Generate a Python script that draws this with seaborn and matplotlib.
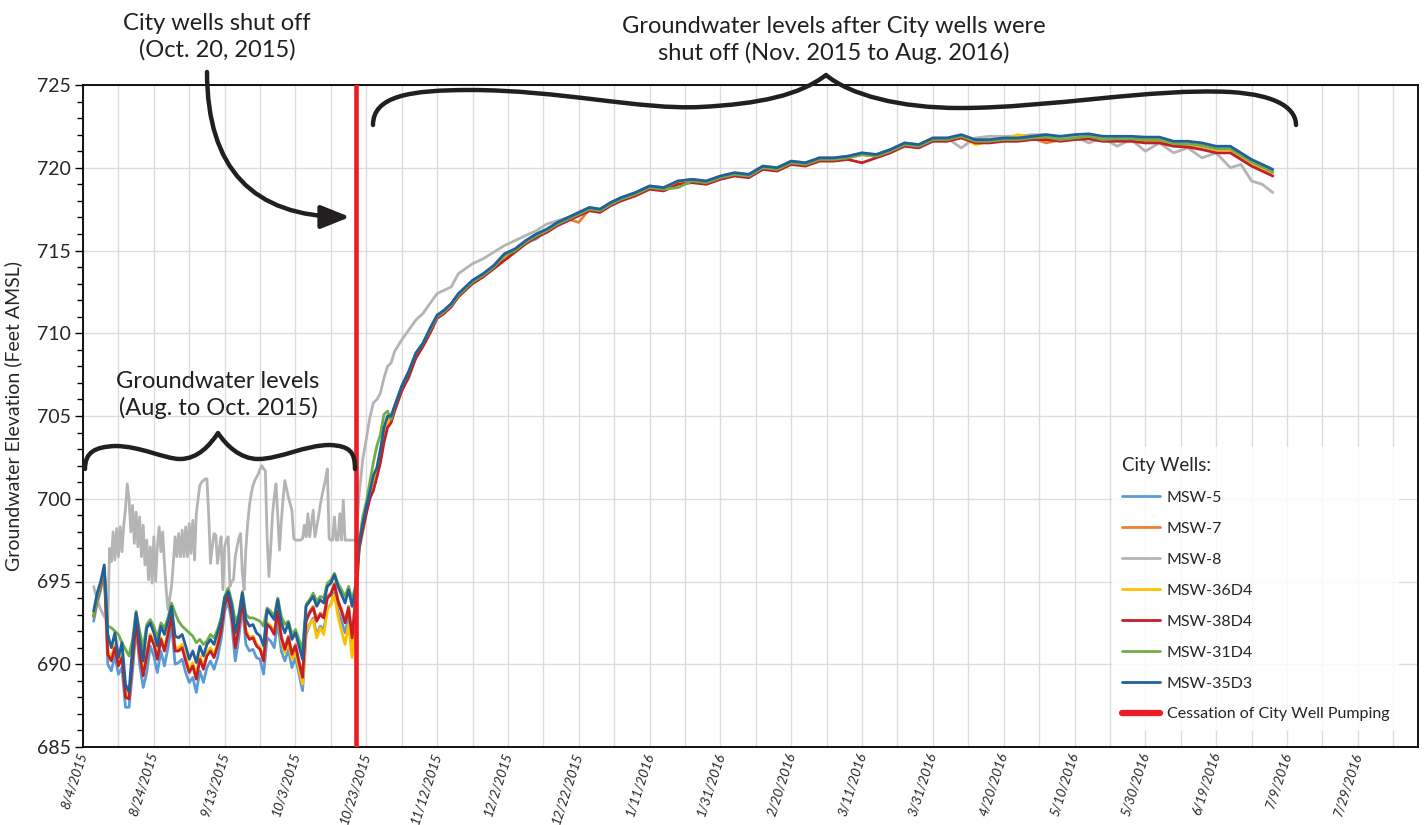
import pandas as pd
import matplotlib
matplotlib.use("Agg")
import matplotlib.pyplot as plt
from matplotlib.lines import Line2D
from matplotlib.path import Path
from matplotlib.patches import PathPatch
from matplotlib.ticker import MultipleLocator
import seaborn as sns

# =====================================
# DATA (feet AMSL)
# =====================================

wells = ["MSW-5", "MSW-7", "MSW-8", "MSW-36D4", "MSW-38D4", "MSW-31D4", "MSW-35D3"]
well_colors = ["#5B9BD5", "#ED7D31", "#B4B4B4", "#FFC000", "#C41E26", "#70AD47", "#22609A"]

axis_start = "2015-08-04"
axis_end = "2016-08-15"
shutoff_date = "2015-10-20"
first_reading = "2015-08-07"

# daily readings 8/7/2015 - 10/20/2015
msw35_pre = [
    693.2, 694.3, 695.0, 696.0, 691.8, 691.0, 691.9, 690.4, 691.3, 688.8,
    688.3, 691.1, 693.1, 691.5, 690.2, 692.2, 692.5, 691.9, 691.1, 692.3,
    691.8, 692.6, 693.5, 691.7, 691.6, 691.8, 691.1, 690.3, 690.8, 690.1,
    691.1, 690.5, 691.2, 691.5, 691.2, 691.9, 692.6, 694.0, 694.4, 693.6,
    691.9, 692.9, 694.3, 692.7, 692.3, 692.4, 691.9, 691.7, 691.1, 693.3,
    693.0, 692.7, 693.9, 692.5, 691.9, 692.5, 691.5, 691.9, 691.1, 690.3,
    693.5, 693.8, 694.1, 693.5, 693.9, 693.7, 694.7, 694.9, 695.4, 694.7,
    694.2, 693.7, 694.5, 693.5, 694.6,
]
msw5_pre = [
    692.6, 693.7, 694.5, 695.6, 690.0, 689.6, 690.5, 689.4, 689.8, 687.4,
    687.4, 689.6, 692.2, 690.0, 688.6, 689.5, 691.1, 690.5, 689.5, 690.8,
    689.9, 691.0, 692.4, 690.0, 690.1, 690.3, 689.5, 688.9, 689.2, 688.3,
    689.6, 688.9, 689.8, 690.2, 689.7, 690.4, 691.5, 693.2, 693.8, 692.5,
    690.2, 691.6, 693.5, 691.2, 690.8, 690.9, 690.4, 690.3, 689.4, 691.6,
    691.4, 691.0, 692.6, 690.8, 690.2, 690.9, 689.8, 690.4, 689.4, 688.4,
    691.8, 692.4, 692.8, 691.8, 692.3, 692.1, 693.4, 693.6, 694.3, 693.2,
    692.6, 691.9, 692.8, 690.8, 693.5,
]
msw38_pre = [
    692.9, 693.9, 694.7, 695.8, 690.6, 690.2, 691.0, 689.9, 690.4, 688.0,
    687.9, 690.3, 692.6, 690.6, 689.3, 690.5, 691.7, 691.2, 690.3, 691.5,
    690.8, 691.8, 692.9, 690.8, 690.8, 691.0, 690.2, 689.5, 689.9, 689.1,
    690.3, 689.7, 690.5, 690.8, 690.4, 691.1, 692.0, 693.6, 694.1, 693.0,
    691.0, 692.2, 693.9, 691.9, 691.5, 691.6, 691.1, 690.9, 690.2, 692.4,
    692.2, 691.8, 693.2, 691.6, 690.9, 691.6, 690.6, 691.1, 690.1, 689.2,
    692.6, 693.1, 693.4, 692.6, 693.0, 692.8, 694.0, 694.2, 694.8, 693.8,
    693.2, 692.5, 693.4, 691.6, 694.0,
]
msw36_pre = [
    692.9, 693.9, 694.7, 695.8, 690.8, 690.4, 691.2, 690.1, 690.6, 688.2,
    688.1, 690.5, 692.7, 690.8, 689.5, 690.7, 691.8, 691.3, 690.5, 691.6,
    691.0, 691.9, 693.0, 691.0, 691.0, 691.2, 690.4, 689.7, 690.1, 689.3,
    690.5, 689.9, 690.7, 691.0, 690.6, 691.3, 692.1, 693.7, 694.2, 693.1,
    691.2, 692.3, 694.0, 692.0, 691.6, 691.7, 691.2, 691.0, 690.3, 692.5,
    692.3, 691.9, 693.3, 691.4, 690.7, 691.3, 690.3, 690.8, 689.7, 688.8,
    692.0, 692.4, 692.7, 691.6, 692.2, 691.8, 693.3, 693.6, 694.2, 692.9,
    692.0, 691.2, 692.4, 690.4, 693.3,
]
msw7_pre = [
    692.9, 694.0, 694.8, 695.8, 690.8, 690.3, 691.1, 690.0, 690.5, 688.1,
    688.0, 690.4, 692.7, 690.7, 689.4, 690.6, 691.8, 691.3, 690.4, 691.6,
    690.9, 691.9, 693.0, 690.9, 690.9, 691.1, 690.3, 689.6, 690.0, 689.2,
    690.4, 689.8, 690.6, 690.9, 690.5, 691.2, 692.1, 693.7, 694.2, 693.1,
    691.1, 692.3, 694.0, 692.0, 691.6, 691.7, 691.2, 691.0, 690.3, 692.5,
    692.3, 691.9, 693.3, 691.7, 691.0, 691.7, 690.7, 691.2, 690.2, 689.3,
    692.7, 693.2, 693.5, 692.7, 693.1, 692.9, 694.1, 694.3, 694.9, 693.9,
    693.3, 692.6, 693.5, 691.7, 694.1,
]
msw31_pre = [
    692.9, 694.0, 694.8, 695.8, 692.3, 692.2, 692.0, 691.8, 691.3, 690.9,
    690.5, 691.5, 693.2, 692.0, 691.0, 692.4, 692.7, 692.3, 691.6, 692.5,
    692.2, 692.8, 693.7, 693.1, 692.6, 692.3, 692.1, 691.9, 691.7, 691.3,
    691.5, 691.2, 691.4, 691.8, 691.6, 692.1, 692.8, 694.1, 694.6, 693.8,
    692.6, 693.0, 694.4, 693.0, 692.8, 692.8, 692.7, 692.6, 692.3, 693.4,
    693.2, 692.9, 694.0, 692.9, 692.4, 692.6, 691.8, 692.1, 691.5, 690.9,
    693.6, 693.9, 694.3, 693.8, 694.1, 694.0, 694.9, 695.1, 695.5, 694.9,
    694.5, 694.1, 694.7, 693.9, 694.8,
]
# MSW-8 cycles faster: twice-daily readings 8/7/2015 - 10/20/2015
msw8_pre = [
    694.7, 694.3, 694.0, 693.6, 693.3, 693.1, 692.9, 692.7, 692.5, 697.0,
    696.2, 698.0, 696.3, 698.2, 696.5, 698.3, 696.8, 698.4, 699.4, 700.9,
    700.0, 698.0, 699.6, 697.3, 699.2, 697.1, 698.9, 696.5, 698.4, 696.0,
    697.5, 695.1, 697.1, 694.9, 697.7, 695.0, 697.1, 698.3, 696.8, 698.0,
    696.1, 694.5, 693.3, 694.0, 694.7, 696.1, 697.7, 696.5, 697.9, 696.5,
    698.1, 696.5, 698.3, 696.5, 698.5, 696.7, 698.7, 696.3, 699.1, 700.0,
    700.8, 701.0, 701.1, 701.2, 701.2, 699.0,
    696.1, 697.1, 697.9, 697.8, 696.1, 697.0, 697.7, 694.5, 697.1, 697.5,
    697.7, 694.7, 695.0, 695.1, 696.5, 697.1, 697.6, 697.9, 695.5, 694.5,
    697.0, 698.5, 699.6, 700.3, 700.8, 701.1, 701.3, 701.5, 701.8, 702.0,
    701.8, 701.7, 697.6, 695.3, 697.0, 699.0, 700.1, 700.9, 699.0, 696.9,
    698.6, 700.0, 701.1, 700.6, 700.1, 699.7, 699.3, 697.6, 697.5, 697.5,
    697.5, 697.5, 697.6, 698.4, 697.7, 699.1, 697.7, 698.5, 699.3, 697.7,
    698.3, 698.9, 699.6, 700.2, 700.7, 701.2, 701.8, 697.6, 697.5, 697.5,
    698.9, 697.5, 697.5, 699.1, 697.5, 699.9, 697.5, 697.5, 697.5, 697.5,
    697.5, 697.5, 697.5,
]

# readings after shut-off, days since 8/4/2015
post_days = [
    78, 79, 80, 81, 82, 83, 84, 85, 86, 87, 88,
    90, 92, 94, 96, 98, 100, 102, 104, 106, 108, 110,
    113, 116, 119, 122, 125, 128, 131, 134, 137, 140, 143, 146, 149, 152,
    156, 160, 164, 168, 172, 176, 180, 184, 188, 192,
    196, 200, 204, 208, 212, 216, 220, 224, 228, 232,
    236, 240, 244, 248, 252, 256, 260, 264, 268, 272,
    276, 280, 284, 288, 292, 296, 300, 304, 308, 312,
    316, 320, 324, 327, 330, 333, 336,
]
msw35_post = [
    697.3, 698.5, 699.5, 700.4, 701.4, 701.9, 703.0, 704.3, 705.0, 705.0, 705.6,
    706.8, 707.7, 708.8, 709.4, 710.3, 711.1, 711.4, 711.8, 712.4, 712.8, 713.2,
    713.6, 714.1, 714.8, 715.1, 715.6, 716.0, 716.3, 716.7, 717.0, 717.3, 717.6, 717.5, 717.9, 718.2,
    718.5, 718.9, 718.8, 719.2, 719.3, 719.2, 719.5, 719.7, 719.6, 720.1,
    720.0, 720.4, 720.3, 720.6, 720.6, 720.7, 720.9, 720.8, 721.1, 721.5,
    721.4, 721.8, 721.8, 722.0, 721.7, 721.7, 721.8, 721.8, 721.9, 722.0,
    721.9, 722.0, 722.05, 721.9, 721.9, 721.9, 721.85, 721.85, 721.6, 721.6,
    721.5, 721.3, 721.3, 720.9, 720.5, 720.2, 719.9,
]
msw38_post = [
    697.0, 698.1, 699.1, 700.0, 700.5, 701.3, 702.2, 703.4, 704.3, 704.6, 705.3,
    706.5, 707.4, 708.5, 709.2, 710.0, 710.9, 711.2, 711.6, 712.2, 712.6, 713.0,
    713.4, 713.9, 714.4, 714.9, 715.4, 715.8, 716.1, 716.5, 716.8, 717.1, 717.4, 717.3, 717.7, 718.0,
    718.3, 718.7, 718.6, 719.0, 719.1, 719.0, 719.3, 719.5, 719.4, 719.9,
    719.8, 720.2, 720.1, 720.4, 720.4, 720.5, 720.3, 720.6, 720.9, 721.3,
    721.2, 721.6, 721.6, 721.8, 721.5, 721.5, 721.6, 721.6, 721.7, 721.7,
    721.6, 721.7, 721.75, 721.6, 721.6, 721.6, 721.5, 721.5, 721.3, 721.25,
    721.1, 720.9, 720.9, 720.5, 720.1, 719.8, 719.5,
]
msw5_post = [
    697.2, 698.3, 699.4, 700.3, 701.1, 701.7, 702.8, 704.0, 704.8, 704.9, 705.5,
    706.6, 707.3, 708.6, 709.3, 710.1, 711.0, 711.3, 711.7, 712.3, 712.7, 713.1,
    713.5, 714.0, 714.6, 715.0, 715.5, 715.7, 716.2, 716.6, 716.9, 717.2, 717.5, 717.4, 717.8, 718.1,
    718.4, 718.8, 718.7, 719.1, 719.2, 719.1, 719.4, 719.6, 719.5, 720.0,
    719.9, 720.3, 720.2, 720.5, 720.5, 720.6, 720.8, 720.7, 721.0, 721.4,
    721.3, 721.7, 721.7, 721.9, 721.6, 721.6, 721.7, 721.7, 721.8, 721.8,
    721.7, 721.8, 721.85, 721.7, 721.7, 721.7, 721.6, 721.6, 721.4, 721.4,
    721.3, 721.1, 721.1, 720.7, 720.3, 720.0, 719.7,
]
msw36_post = [
    697.0, 698.0, 699.2, 700.1, 700.9, 701.6, 702.6, 703.8, 704.6, 704.8, 705.4,
    706.6, 707.5, 708.6, 709.3, 710.1, 711.0, 711.3, 711.7, 712.3, 712.7, 713.1,
    713.5, 714.0, 714.6, 715.0, 715.5, 715.9, 716.2, 716.6, 716.9, 717.2, 717.5, 717.4, 717.8, 718.1,
    718.4, 718.8, 718.7, 719.1, 719.2, 719.1, 719.4, 719.6, 719.5, 720.0,
    719.9, 720.3, 720.2, 720.5, 720.5, 720.6, 720.8, 720.7, 721.0, 721.4,
    721.3, 721.7, 721.7, 721.9, 721.4, 721.6, 721.7, 722.0, 721.8, 721.8,
    721.7, 721.8, 721.9, 721.75, 721.75, 721.7, 721.65, 721.65, 721.45, 721.4,
    721.3, 721.1, 721.1, 720.7, 720.3, 720.0, 719.7,
]
msw7_post = [
    697.2, 698.3, 699.3, 700.2, 701.0, 701.7, 702.8, 704.0, 704.8, 705.0, 705.5,
    706.7, 707.6, 708.7, 709.3, 710.2, 711.0, 711.3, 711.7, 712.3, 712.7, 713.1,
    713.5, 714.0, 714.7, 715.0, 715.5, 715.9, 716.2, 716.6, 716.9, 716.7, 717.5, 717.4, 717.8, 718.1,
    718.4, 718.8, 718.7, 719.1, 719.2, 719.1, 719.4, 719.6, 719.5, 720.0,
    719.9, 720.3, 720.2, 720.5, 720.5, 720.6, 720.8, 720.7, 721.0, 721.4,
    721.3, 721.7, 721.7, 721.9, 721.6, 721.6, 721.7, 721.7, 721.8, 721.5,
    721.7, 721.8, 721.85, 721.7, 721.7, 721.7, 721.6, 721.6, 721.4, 721.4,
    721.3, 721.1, 721.1, 720.7, 720.3, 720.0, 719.7,
]
msw31_post = [
    697.4, 698.9, 699.8, 701.0, 702.2, 703.2, 703.9, 705.1, 705.3, 704.8, 705.6,
    706.8, 707.7, 708.8, 709.4, 710.2, 711.0, 711.3, 711.7, 712.3, 712.7, 713.1,
    713.5, 714.0, 714.7, 715.0, 715.5, 715.9, 716.2, 716.6, 716.9, 717.2, 717.5, 717.4, 717.8, 718.1,
    718.4, 718.8, 718.7, 718.8, 719.2, 719.1, 719.4, 719.6, 719.5, 720.0,
    719.9, 720.3, 720.2, 720.5, 720.5, 720.6, 720.8, 720.7, 721.0, 721.4,
    721.3, 721.7, 721.7, 721.9, 721.6, 721.6, 721.7, 721.7, 721.8, 721.85,
    721.7, 721.8, 721.9, 721.7, 721.75, 721.75, 721.7, 721.7, 721.45, 721.45,
    721.35, 721.15, 721.15, 720.75, 720.35, 720.05, 719.75,
]
msw8_post = [
    700.3, 702.4, 703.6, 704.9, 705.8, 706.0, 706.4, 707.3, 708.0, 708.2, 708.9,
    709.6, 710.2, 710.8, 711.2, 711.8, 712.4, 712.6, 712.8, 713.6, 713.9, 714.2,
    714.5, 714.9, 715.3, 715.6, 715.9, 716.2, 716.6, 716.8, 717.0, 717.3, 717.6, 717.5, 717.9, 718.2,
    718.5, 718.9, 718.8, 719.2, 719.3, 719.2, 719.5, 719.7, 719.6, 720.1,
    720.0, 720.4, 720.3, 720.6, 720.6, 720.7, 720.9, 720.8, 721.1, 721.5,
    721.4, 721.8, 721.8, 721.2, 721.8, 721.9, 721.9, 721.9, 722.0, 722.0,
    721.8, 721.9, 721.5, 721.8, 721.3, 721.7, 721.0, 721.5, 720.9, 721.2,
    720.6, 720.9, 720.0, 720.2, 719.2, 719.0, 718.5,
]

pre_values = [msw5_pre, msw7_pre, msw8_pre, msw36_pre, msw38_pre, msw31_pre, msw35_pre]
post_values = [msw5_post, msw7_post, msw8_post, msw36_post, msw38_post, msw31_post, msw35_post]

# =====================================
# BUILD LONG TABLE
# =====================================

start = pd.Timestamp(axis_start)
post_dates = start + pd.to_timedelta(post_days, unit="D")

frames = []
for well, pre, post in zip(wells, pre_values, post_values):
    freq = "12h" if well == "MSW-8" else "D"
    pre_dates = pd.date_range(first_reading, periods=len(pre), freq=freq)
    frames.append(pd.DataFrame({"date": pre_dates, "elev": pre, "well": well}))
    frames.append(pd.DataFrame({"date": post_dates, "elev": post, "well": well}))
df = pd.concat(frames, ignore_index=True)

# =====================================
# PLOT
# =====================================

sns.set_style("white")
plt.rcParams["font.family"] = ["Lato", "DejaVu Sans"]

W, H = 1424, 825
INK = "#231F20"
PUMP_RED = "#ED1C24"

fig = plt.figure(figsize=(W / 100, H / 100), dpi=100)
fig.patch.set_facecolor("white")
ax = fig.add_axes([83 / W, 1 - 747 / H, (1418 - 83) / W, (747 - 85) / H])

sns.lineplot(
    data=df, x="date", y="elev", hue="well", hue_order=wells,
    palette=dict(zip(wells, well_colors)), estimator=None, sort=False,
    linewidth=2.0, legend=False, ax=ax
)

ax.axvline(pd.Timestamp(shutoff_date), color=PUMP_RED, lw=3.3, zorder=6)

ax.set_xlim(start, pd.Timestamp(axis_end))
ax.set_ylim(685, 725)

major_dates = pd.date_range(axis_start, axis_end, freq="20D")
minor_dates = pd.date_range(axis_start, axis_end, freq="10D")
ax.set_xticks(major_dates)
ax.set_xticks(minor_dates, minor=True)
ax.set_xticklabels(
    [f"{d.month}/{d.day}/{d.year}" for d in major_dates],
    rotation=72, ha="right", va="center", rotation_mode="anchor",
    fontsize=9.8, style="italic"
)
ax.yaxis.set_major_locator(MultipleLocator(5))
ax.yaxis.set_minor_locator(MultipleLocator(1))
for lab in ax.get_yticklabels():
    lab.set_fontsize(14)

ax.grid(which="both", axis="x", color="#DCDCDC", lw=1.0)
ax.grid(which="major", axis="y", color="#DCDCDC", lw=1.0)
ax.set_axisbelow(True)

ax.tick_params(axis="x", which="both", length=0, pad=4)
ax.tick_params(axis="y", which="major", length=6, width=1, color="black", left=True, pad=3)
ax.tick_params(axis="y", which="minor", length=4, width=1, color="black", left=True)
for sp in ax.spines.values():
    sp.set_color("black")
    sp.set_linewidth(1.3)

ax.set_xlabel("")
ax.set_ylabel("Groundwater Elevation (Feet AMSL)", fontsize=14, labelpad=10)

# legend
handles = [Line2D([0], [0], color=c, lw=2.0) for c in well_colors]
handles.append(Line2D([0], [0], color=PUMP_RED, lw=4.5))
labels = wells + ["Cessation of City Well Pumping"]
leg = ax.legend(
    handles, labels, title="City Wells:", loc="lower left",
    bbox_to_anchor=(0.765, 0.012), fontsize=11.5, title_fontsize=13.5,
    labelspacing=1.05, handlelength=2.4, handletextpad=0.4, borderpad=0.6,
    alignment="left", frameon=True, fancybox=False
)
leg.get_frame().set_facecolor("white")
leg.get_frame().set_edgecolor("none")
leg.get_frame().set_alpha(0.85)


# =====================================
# ANNOTATIONS (figure pixels from top-left)
# =====================================

def fig_px(x, y):
    return (x / W, 1 - y / H)


def draw_brace(start_pt, curves):
    verts = [fig_px(*start_pt)]
    codes = [Path.MOVETO]
    for seg in curves:
        for p in seg:
            verts.append(fig_px(*p))
            codes.append(Path.CURVE4)
    patch = PathPatch(Path(verts, codes), transform=fig.transFigure, fill=False,
                      lw=3.2, edgecolor=INK, capstyle="round", joinstyle="round")
    fig.add_artist(patch)


# big brace over the recovery period
draw_brace((373, 125), [
    [(373, 96), (410, 90), (470, 90)],
    [(560, 90), (640, 110), (700, 107)],
    [(760, 104), (800, 95), (826, 75)],
    [(850, 95), (900, 108), (960, 108)],
    [(1050, 108), (1150, 88), (1230, 92)],
    [(1280, 95), (1296, 110), (1296, 125)],
])

# small brace over the pumping period
draw_brace((85, 469), [
    [(85, 452), (95, 447), (115, 446)],
    [(140, 446), (165, 459), (180, 459)],
    [(198, 459), (210, 445), (218, 433)],
    [(226, 445), (240, 459), (258, 459)],
    [(280, 459), (305, 445), (330, 445)],
    [(350, 446), (355, 452), (355, 469)],
])

ax.annotate(
    "", xy=fig_px(350, 217), xycoords="figure fraction",
    xytext=fig_px(207, 72), textcoords="figure fraction",
    arrowprops=dict(arrowstyle="-|>,head_length=0.8,head_width=0.32",
                    connectionstyle="angle3,angleA=90,angleB=0",
                    lw=3.2, color=INK, mutation_scale=22, shrinkA=0, shrinkB=0),
    annotation_clip=False
)

fig.text(*fig_px(217, 37), "City wells shut off\n(Oct. 20, 2015)", ha="center", va="center",
         fontsize=17, color=INK, linespacing=1.3)
fig.text(*fig_px(834, 40), "Groundwater levels after City wells were\nshut off (Nov. 2015 to Aug. 2016)",
         ha="center", va="center", fontsize=17, color=INK, linespacing=1.3)
fig.text(*fig_px(218, 395), "Groundwater levels\n(Aug. to Oct. 2015)", ha="center", va="center",
         fontsize=17, color=INK, linespacing=1.3)

plt.savefig("out.png", dpi=100, facecolor="white")
